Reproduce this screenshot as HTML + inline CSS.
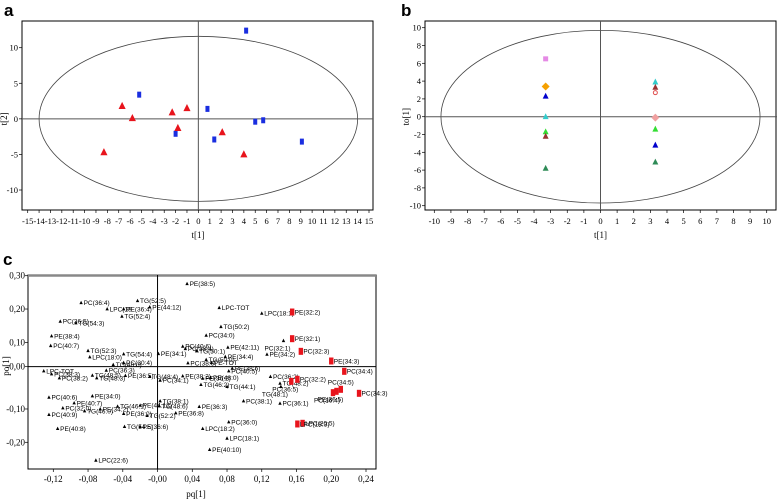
<!DOCTYPE html>
<html><head><meta charset="utf-8"><style>
body{margin:0;background:#fff}
svg{display:block}
text{font-family:"Liberation Serif",serif}
text.letter{font-family:"Liberation Sans",sans-serif;font-weight:bold}
.c text.lbl{font-family:"Liberation Sans",sans-serif;font-size:6.5px}
</style></head><body>
<svg id="s" width="777" height="501" viewBox="0 0 777 501"></svg>
<script>
// ---- Panel a data
const aBlueX=[4.2,-5.2,0.8,-2.0,1.4,5.0,5.7,9.1];
const aBlueY=[12.4,3.4,1.4,-2.1,-2.9,-0.4,-0.2,-3.2];
const aRedX=[-6.7,-5.8,-2.3,-1.0,-1.8,2.1,-8.3,4.0];
const aRedY=[1.8,0.1,0.9,1.5,-1.3,-1.9,-4.7,-5.0];
const aXTicks=[-15,-14,-13,-12,-11,-10,-9,-8,-7,-6,-5,-4,-3,-2,-1,0,1,2,3,4,5,6,7,8,9,10,11,12,13,14,15];
const aYTicks=[10,5,0,-5,-10];
// ---- Panel b data
const bX=[-3.3,-3.3,-3.3,-3.3,-3.3,-3.3,-3.3,3.3,3.3,3.3,3.3,3.3,3.3,3.3];
const bY=[6.5,3.4,2.3,0.0,-1.7,-2.2,-5.8,3.9,3.3,2.7,-0.1,-1.4,-3.2,-5.1];
const bKind=["square","diamond","tri","tri","tri","tri","tri","tri","tri","circle","diamond","tri","tri","tri"];
const bColor=["#e58ae5","#f5a000","#0000cc","#33cccc","#33dd33","#993333","#2e8b57","#33cccc","#993333","#e05050","#f0a0a0","#33dd33","#0000cc","#2e8b57"];
const bXTicks=[-10,-9,-8,-7,-6,-5,-4,-3,-2,-1,0,1,2,3,4,5,6,7,8,9,10];
const bYTicks=[10,8,6,4,2,0,-2,-4,-6,-8,-10];
// ---- Panel c data
const cNames=["PE(38:5)","PC(36:4)","TG(52:5)","LPC(18","PE(36:4)","PE(44:12)","LPC-TOT","TG(52:4)","PC(36:5)","TG(54:3)","TG(50:2)","PE(38:4)","PC(34:0)","PC(40:7)","PE(42:11)","TG(52:3)","LPC(18:0)","TG(54:4)","PE(34:1)","PC(40:6)","PC(38:4)","TG(50:1)","PC(38:6)","TG(50:0)","PE(34:4)","PE-TOT","TG(48:0)","PC(30:4)","PC(40:5)","PE(38:6)",
"LPC-TOT","PC(38:3)","PC(38:2)","PC(36:3)","TG(48:5)","TG(48:3)","PE(36:5)","TG(48:4)","PC(34:1)","PE(38:2)","PE(36:2)","PE(48:0)","TG(46:2)","TG(44:1)","PC(38:1)","PC(32:0)","PC(40:6)","PE(40:7)","PE(34:0)","PC(40:9)","TG(46:0)","PE(34:2)","PE(36:0)","TG(46:1)","PE(44:12)","TG(52:2)","TG(38:1)","TG(48:6)","PE(36:8)","PE(36:3)","TG(54:5)","PE(36:6)","PE(40:8)","LPC(18:2)","PC(36:0)","LPC(18:1)","PE(40:10)","LPC(22:6)",
"LPC(18:1)","PC(32:1)","PE(34:2)","PC(36:2)","TG(48:2)","TG(48:1)","PC(36:1)",
"PE(32:2)","PE(32:1)","PC(32:3)","PE(34:3)","PC(34:4)","PC(32:2)","PC(36:5)","PC(34:5)","PE(36:5)","PC(36:4)","PC(34:3)","LPC(20:5)","LPC(18:3)"];
const cX=[0.034,-0.088,-0.023,-0.058,-0.039,-0.009,0.071,-0.041,-0.112,-0.094,0.073,-0.122,0.056,-0.123,0.081,-0.080,-0.078,-0.039,0.001,0.029,0.032,0.045,0.035,0.056,0.078,0.062,-0.051,-0.039,0.082,0.086,
-0.131,-0.122,-0.113,-0.059,-0.075,-0.070,-0.037,-0.009,0.003,0.029,0.052,0.061,0.050,0.080,0.099,-0.109,-0.125,-0.096,-0.075,-0.125,-0.084,-0.066,-0.039,-0.046,-0.020,-0.012,0.003,0.002,0.021,0.048,-0.038,-0.020,-0.115,0.052,0.082,0.080,0.060,-0.071,
0.120,0.145,0.126,0.130,0.141,0.142,0.141,
0.155,0.155,0.165,0.200,0.215,0.161,0.154,0.211,0.206,0.202,0.232,0.167,0.161];
const cY=[0.276,0.219,0.225,0.200,0.200,0.206,0.204,0.178,0.163,0.158,0.147,0.119,0.121,0.090,0.085,0.075,0.056,0.065,0.066,0.088,0.081,0.074,0.038,0.048,0.057,0.039,0.033,0.039,0.014,0.022,
0.014,0.005,-0.007,0.016,0.001,-0.007,0.000,-0.003,-0.014,-0.001,-0.008,-0.006,-0.027,-0.033,-0.076,-0.097,-0.065,-0.082,-0.061,-0.117,-0.106,-0.100,-0.114,-0.092,-0.089,-0.120,-0.076,-0.091,-0.112,-0.093,-0.153,-0.153,-0.159,-0.159,-0.139,-0.188,-0.222,-0.254,
0.187,0.105,0.064,-0.003,-0.023,-0.033,-0.083,
0.191,0.111,0.073,0.044,0.013,-0.011,-0.017,-0.041,-0.047,-0.051,-0.053,-0.143,-0.145];
const cGroup=cNames.map((n,i)=>i>=75?"red":"black");
const cLabelPos=cNames.map((n,i)=>[69,73,81,84].includes(i)?"b":(i===82?"t":(i===83?"b":(i===84?"l":"r"))));
const cXTicks=[-0.12,-0.08,-0.04,0.00,0.04,0.08,0.12,0.16,0.20,0.24];
const cXTickLbl=["-0,12","-0,08","-0,04","-0,00","0,04","0,08","0,12","0,16","0,20","0,24"];
const cYTicks=[0.30,0.20,0.10,0.00,-0.10,-0.20];
const cYTickLbl=["0,30","0,20","0,10","-0,00","-0,10","-0,20"];
const cOriginY=0.027;

const NS="http://www.w3.org/2000/svg";
const svg=document.getElementById('s');
function mk(tag,attrs,parent,txt){const e=document.createElementNS(NS,tag);for(const k in attrs)e.setAttribute(k,attrs[k]);if(txt!==undefined)e.textContent=txt;(parent||svg).appendChild(e);return e;}
function lin(d0,d1,r0,r1){return v=>r0+(v-d0)*(r1-r0)/(d1-d0);}
function tri(g,x,y,s,fill){return mk('polygon',{points:`${x},${y-s} ${x-s*0.85},${y+s*0.7} ${x+s*0.85},${y+s*0.7}`,fill:fill},g);}

// ===== Panel a
const ga=mk('g',{});
const t1=mk('text',{x:4,y:16,class:'letter','font-size':17},ga,'a');

const ax=lin(-15,15,27.7,369), ay=lin(10,-10,47.7,190);
const ra=mk('rect',{x:22,y:21,width:351,height:189,fill:'none',stroke:'#000','stroke-width':1},ga);

const ea=mk('ellipse',{cx:ax(0),cy:ay(0),rx:ax(14)-ax(0),ry:ay(-11.6)-ay(0),fill:'none',stroke:'#444','stroke-width':0.8},ga);

mk('line',{x1:ax(0),x2:ax(0),y1:21,y2:210,stroke:'#555','stroke-width':1},ga);
mk('line',{x1:22,x2:373,y1:ay(0),y2:ay(0),stroke:'#555','stroke-width':1},ga);
aXTicks.forEach(t=>{mk('line',{x1:ax(t),x2:ax(t),y1:210,y2:213,stroke:'#000','stroke-width':0.7},ga);
 const e=mk('text',{x:ax(t),y:224,'font-size':8.5,'text-anchor':'middle'},ga,String(t));});
aYTicks.forEach(t=>{mk('line',{x1:19,x2:22,y1:ay(t),y2:ay(t),stroke:'#000','stroke-width':0.7},ga);
 const e=mk('text',{x:18,y:ay(t)+3,'font-size':8.5,'text-anchor':'end'},ga,String(t));});
let e=mk('text',{x:198,y:238,'font-size':9,'text-anchor':'middle'},ga,'t[1]');
e=mk('text',{x:0,y:0,'font-size':9,'text-anchor':'middle',transform:`translate(7,${ay(0)}) rotate(-90)`},ga,'t[2]');
aBlueX.forEach((v,i)=>{const r=mk('rect',{x:ax(v)-2,y:ay(aBlueY[i])-3,width:4,height:6,fill:'#1a2ee0'},ga);});
aRedX.forEach((v,i)=>{const r=tri(ga,ax(v),ay(aRedY[i]),4.2,'#e8141c');});

// ===== Panel b
const gb=mk('g',{});
e=mk('text',{x:401,y:16,class:'letter','font-size':17},gb,'b');
const bx=lin(-10,10,434.3,766.7), by=lin(10,-10,27.7,205.7);
e=mk('rect',{x:425,y:21,width:351,height:189,fill:'none',stroke:'#000','stroke-width':1},gb);
e=mk('ellipse',{cx:bx(0),cy:by(0),rx:bx(9.6)-bx(0),ry:by(-9.7)-by(0),fill:'none',stroke:'#444','stroke-width':0.8},gb);
mk('line',{x1:bx(0),x2:bx(0),y1:21,y2:210,stroke:'#555','stroke-width':1},gb);
mk('line',{x1:425,x2:777,y1:by(0),y2:by(0),stroke:'#555','stroke-width':1},gb);
bXTicks.forEach(t=>{mk('line',{x1:bx(t),x2:bx(t),y1:210,y2:213,stroke:'#000','stroke-width':0.7},gb);
 const e=mk('text',{x:bx(t),y:224,'font-size':8.5,'text-anchor':'middle'},gb,String(t));});
bYTicks.forEach(t=>{mk('line',{x1:422,x2:425,y1:by(t),y2:by(t),stroke:'#000','stroke-width':0.7},gb);
 const e=mk('text',{x:421,y:by(t)+3,'font-size':8.5,'text-anchor':'end'},gb,String(t));});
e=mk('text',{x:bx(0),y:238,'font-size':9,'text-anchor':'middle'},gb,'t[1]');
e=mk('text',{x:0,y:0,'font-size':9,'text-anchor':'middle',transform:`translate(409,${by(0)}) rotate(-90)`},gb,'to[1]');
bX.forEach((v,i)=>{const x=bx(v),y=by(bY[i]),c=bColor[i];let m;
 if(bKind[i]==='square')m=mk('rect',{x:x-2.5,y:y-2.5,width:5,height:5,fill:c},gb);
 else if(bKind[i]==='diamond')m=mk('polygon',{points:`${x},${y-4} ${x+4},${y} ${x},${y+4} ${x-4},${y}`,fill:c},gb);
 else if(bKind[i]==='circle')m=mk('circle',{cx:x,cy:y,r:2,fill:'none',stroke:c,'stroke-width':1},gb);
 else m=tri(gb,x,y,3.5,c);
 });

// ===== Panel c
const gc=mk('g',{class:'c'});
e=mk('text',{x:3,y:265,class:'letter','font-size':17},gc,'c');
const cx=lin(-0.12,0.24,53.3,366), cy=lin(0.30,-0.20,275.7,442.3);
e=mk('rect',{x:28,y:275,width:348,height:194,fill:'none',stroke:'#000','stroke-width':1},gc);
mk('line',{x1:28,x2:376,y1:275.5,y2:275.5,stroke:'#888','stroke-width':2.5},gc);
mk('line',{x1:cx(0),x2:cx(0),y1:275,y2:469,stroke:'#000','stroke-width':1},gc);
mk('line',{x1:28,x2:376,y1:cy(cOriginY),y2:cy(cOriginY),stroke:'#000','stroke-width':1},gc);
cXTicks.forEach((t,i)=>{mk('line',{x1:cx(t),x2:cx(t),y1:469,y2:472,stroke:'#000','stroke-width':0.7},gc);
 const e=mk('text',{x:cx(t),y:482,'font-size':9,'text-anchor':'middle'},gc,cXTickLbl[i]);});
cYTicks.forEach((t,i)=>{const yy=t===0?cy(cOriginY):cy(t);mk('line',{x1:25,x2:28,y1:yy,y2:yy,stroke:'#000','stroke-width':0.7},gc);
 const e=mk('text',{x:25,y:yy+3,'font-size':9,'text-anchor':'end'},gc,cYTickLbl[i]);});
e=mk('text',{x:196,y:497,'font-size':9,'text-anchor':'middle'},gc,'pq[1]');
e=mk('text',{x:0,y:0,'font-size':9,'text-anchor':'middle',transform:`translate(9,366) rotate(-90)`},gc,'po[1]');
cNames.forEach((n,i)=>{const x=cx(cX[i]),y=cy(cY[i]);let m;
 if(cGroup[i]==='red')m=mk('rect',{x:x-2.2,y:y-3.5,width:4.4,height:7,fill:'#e8141c'},gc);
 else m=tri(gc,x,y,2,'#000');
 
 const p=cLabelPos[i];let lx=x+2.5,ly=y+2.3,anc='start';
 if(p==='b'){lx=x-6;ly=y+10;anc='middle';}else if(p==='t'){lx=x;ly=y-5;anc='middle';}else if(p==='l'){lx=x-3;anc='end';}
 const t=mk('text',{x:lx,y:ly,'text-anchor':anc,class:'lbl'},gc,n);
 });
</script>
</body></html>
